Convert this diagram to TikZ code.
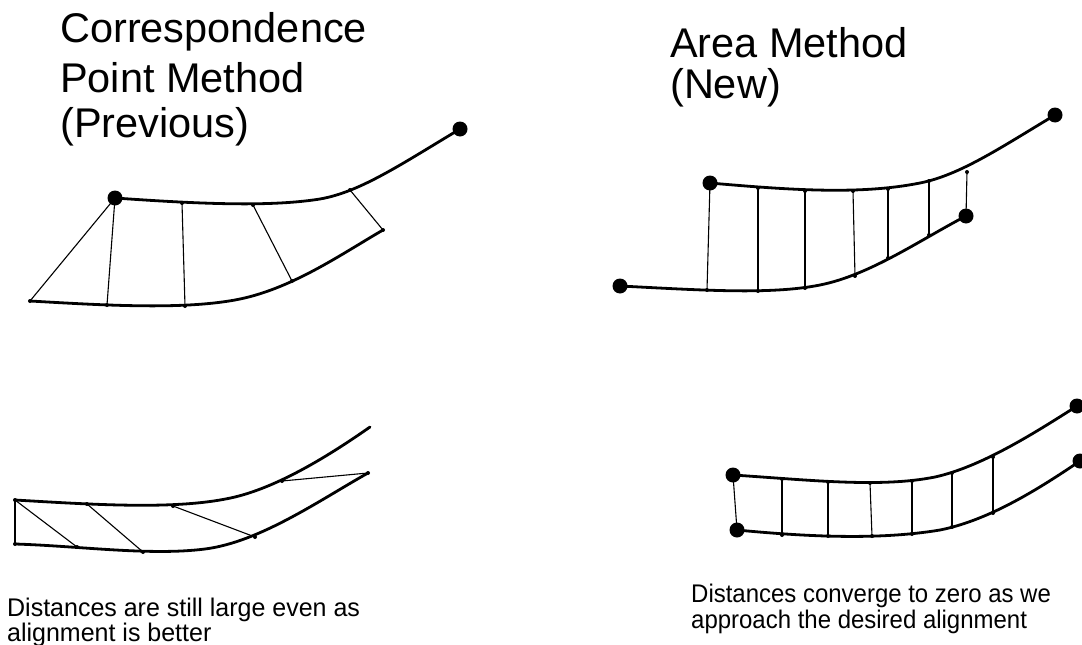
\documentclass[tikz,border=0pt]{standalone}
\usepackage{fontspec}
\setmainfont{Liberation Sans}
\newfontfamily\notefontL[FakeStretch=0.98]{Liberation Sans}
\newfontfamily\notefontR[FakeStretch=0.94]{Liberation Sans}
\begin{document}
\begin{tikzpicture}[x=1pt,y=-1pt,
  curve/.style={line width=2.8pt, line cap=round, line join=round},
  link/.style={line width=1.1pt},
  bigdot/.style={circle, fill=black, inner sep=0pt, minimum size=15pt},
  smalldot/.style={circle, fill=black, inner sep=0pt, minimum size=4pt},
  title/.style={anchor=base west, inner sep=0pt, font=\fontsize{41.5}{47}\selectfont},
  noteL/.style={anchor=base west, inner sep=0pt, font=\notefontL\fontsize{25.5}{25}\selectfont},
  noteR/.style={anchor=base west, inner sep=0pt, font=\notefontR\fontsize{25.5}{25}\selectfont}]
\useasboundingbox (0,0) rectangle (1082,645);

% ---------- titles ----------
\node[title] (tl1) at (60,42) {Correspondence};
\node[title] (tl2) at (60,92) {Point Method};
\node[title] (tl3) at (60,137) {(Previous)};
\node[title] (tr1) at (670,57) {Area Method};
\node[title] (tr2) at (670,98) {(New)};

% ---------- captions ----------
\node[noteL] (cl1) at (7,616) {Distances are still large even as};
\node[noteL] (cl2) at (7,641) {alignment is better};
\node[noteR] (cr1) at (691,602) {Distances converge to zero as we};
\node[noteR] (cr2) at (691,628) {approach the desired alignment};

% ---------- top left ----------
\coordinate (A0) at (115,198);
\coordinate (A1) at (182,203);
\coordinate (A2) at (253,205);
\coordinate (Am) at (320,199);
\coordinate (A3) at (350,190);
\coordinate (A4) at (460,129);
\coordinate (B0) at (30,301);
\coordinate (B1) at (107,305);
\coordinate (B2) at (185,306);
\coordinate (Bm) at (235,300);
\coordinate (B3) at (292,281);
\coordinate (B4) at (383,230);
\draw[curve] (A0) .. controls (200,204) and (270,207) .. (Am)
                  .. controls (360,192) and (400,165) .. (A4);
\draw[curve] (B0) .. controls (100,305) and (180,310) .. (Bm)
                  .. controls (290,290) and (340,255) .. (B4);
\draw[link] (A0) -- (B0);
\draw[link] (A0) -- (B1);
\draw[link] (A1) -- (B2);
\draw[link] (A2) -- (B3);
\draw[link] (A3) -- (B4);
\foreach \p in {A1,A2,A3,B0,B1,B2,B3,B4} \node[smalldot] at (\p) {};
\node[bigdot] (dA0) at (A0) {};
\node[bigdot] (dA4) at (A4) {};

% ---------- top right ----------
\coordinate (C0) at (710,183);
\coordinate (C1) at (758,188);
\coordinate (C2) at (805,191);
\coordinate (C3) at (853,191);
\coordinate (C4) at (888,189);
\coordinate (Cm) at (920,183);
\coordinate (C5) at (929,181);
\coordinate (C6) at (967,172);
\coordinate (C7) at (1055,115);
\coordinate (D0) at (620,286);
\coordinate (D1) at (707,290);
\coordinate (D2) at (758,291);
\coordinate (D3) at (805,288);
\coordinate (Dm) at (820,285);
\coordinate (D4) at (855,276);
\coordinate (D5) at (888,258);
\coordinate (D6) at (929,235);
\coordinate (D7) at (966,216);
\draw[curve] (C0) .. controls (790,190) and (860,195) .. (Cm)
                  .. controls (960,175) and (1000,148) .. (C7);
\draw[curve] (D0) .. controls (700,290) and (770,295) .. (Dm)
                  .. controls (870,275) and (920,240) .. (D7);
\draw[link] (C0) -- (D1);
\draw[link] (C1) -- (D2);
\draw[link] (C2) -- (D3);
\draw[link] (C3) -- (D4);
\draw[link] (C4) -- (D5);
\draw[link] (C5) -- (D6);
\draw[link] (C6) -- (D7);
\foreach \p in {C1,C2,C3,C4,C5,C6,D1,D2,D3,D4,D5,D6} \node[smalldot] at (\p) {};
\node[bigdot] (dC0) at (C0) {};
\node[bigdot] (dC7) at (C7) {};
\node[bigdot] (dD0) at (D0) {};
\node[bigdot] (dD7) at (D7) {};

% ---------- bottom left ----------
\coordinate (E0) at (15,500);
\coordinate (E1) at (87,504);
\coordinate (E2) at (173,506);
\coordinate (Em) at (235,497);
\coordinate (E3) at (282,481);
\coordinate (E4) at (370,427);
\coordinate (F0) at (15,544);
\coordinate (F1) at (77,547);
\coordinate (F2) at (143,552);
\coordinate (Fm) at (205,549);
\coordinate (F3) at (255,537);
\coordinate (F4) at (368,473);
\draw[curve] (E0) .. controls (100,505) and (180,510) .. (Em)
                  .. controls (280,486) and (330,455) .. (E4);
\draw[curve] (F0) .. controls (80,546) and (150,556) .. (Fm)
                  .. controls (260,542) and (320,500) .. (F4);
\draw[link] (E0) -- (F0);
\draw[link] (E0) -- (F1);
\draw[link] (E1) -- (F2);
\draw[link] (E2) -- (F3);
\draw[link] (E3) -- (F4);
\foreach \p in {E0,E1,E2,E3,F0,F1,F2,F3,F4} \node[smalldot] at (\p) {};

% ---------- bottom right ----------
\coordinate (G0) at (733,475);
\coordinate (G1) at (782,479);
\coordinate (G2) at (828,482);
\coordinate (G3) at (870,483);
\coordinate (G4) at (912,481);
\coordinate (Gm) at (935,477);
\coordinate (G5) at (952,473);
\coordinate (G6) at (993,457);
\coordinate (G7) at (1077,406);
\coordinate (H0) at (737,530);
\coordinate (H1) at (782,535);
\coordinate (H2) at (828,536);
\coordinate (H3) at (872,536);
\coordinate (H4) at (912,534);
\coordinate (Hm) at (940,530);
\coordinate (H5) at (952,527);
\coordinate (H6) at (993,513);
\coordinate (H7) at (1080,461);
\draw[curve] (G0) .. controls (810,480) and (880,488) .. (Gm)
                  .. controls (980,467) and (1030,436) .. (G7);
\draw[curve] (H0) .. controls (810,537) and (880,540) .. (Hm)
                  .. controls (990,520) and (1040,488) .. (H7);
\draw[link] (G0) -- (H0);
\draw[link] (G1) -- (H1);
\draw[link] (G2) -- (H2);
\draw[link] (G3) -- (H3);
\draw[link] (G4) -- (H4);
\draw[link] (G5) -- (H5);
\draw[link] (G6) -- (H6);
\foreach \p in {G1,G2,G3,G4,G5,G6,H1,H2,H3,H4,H5,H6} \node[smalldot] at (\p) {};
\node[bigdot] (dG0) at (G0) {};
\node[bigdot] (dH0) at (H0) {};
\node[bigdot] (dG7) at (G7) {};
\node[bigdot] (dH7) at (H7) {};
\end{tikzpicture}
\end{document}
